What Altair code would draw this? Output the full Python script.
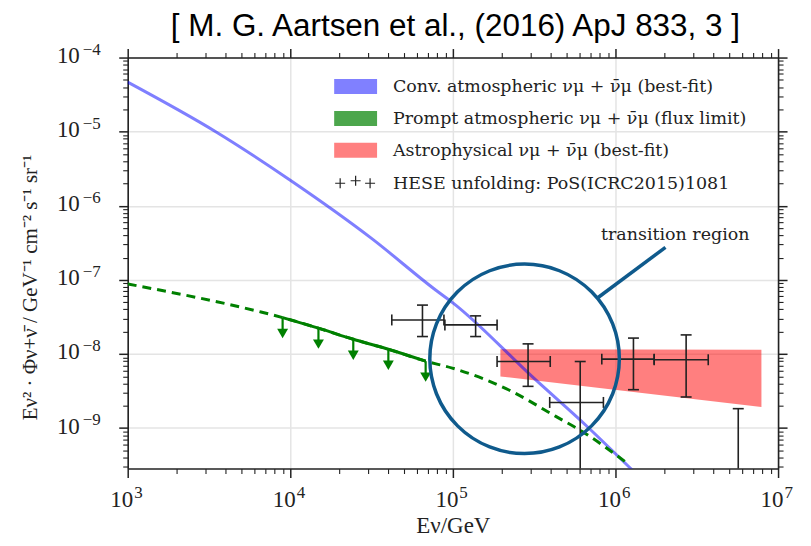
import math
import altair as alt
import pandas as pd

# ---------------- data ----------------
TITLE = "[ M. G. Aartsen et al., (2016) ApJ 833, 3 ]"
X_TITLE = "Eν/GeV"
Y_TITLE = "Eν² · Φν+ν\u0304 / GeV⁻¹ cm⁻² s⁻¹ sr⁻¹"

LEGEND_LABELS = [
    "Conv. atmospheric νμ + ν\u0304μ (best-fit)",
    "Prompt atmospheric νμ + ν\u0304μ (flux limit)",
    "Astrophysical νμ + ν\u0304μ (best-fit)",
    "HESE unfolding: PoS(ICRC2015)1081",
]

# conventional atmospheric (best fit)
conv_E = [1.0e3, 3.5e3, 1.0e4, 3.16e4, 7.83e4, 1.0e5, 3.16e5, 6.67e5, 1.2e6, 1.32e6]
conv_F = [4.66e-5, 9.9e-6, 2.21e-6, 3.63e-7, 7.31e-8, 4.9e-8, 4.68e-9, 1.06e-9, 3.06e-10, 2.5e-10]

# prompt atmospheric (model curve, dashed)
prompt_E = [1.0e3, 6.46e3, 8.97e3, 1.49e4, 2.44e4, 4.01e4, 6.8e4, 9.91e4, 2.21e5, 4.27e5, 6.21e5, 1.175e6]
prompt_F = [8.81e-8, 3.73e-8, 3.10e-8, 2.23e-8, 1.58e-8, 1.16e-8, 8.0e-9, 6.46e-9, 3.27e-9, 1.45e-9, 9.06e-10, 3.39e-10]

# prompt flux limit (solid section with arrows)
limit_E = [8.97e3, 1.49e4, 2.44e4, 4.01e4, 6.8e4]
limit_F = [3.10e-8, 2.23e-8, 1.58e-8, 1.16e-8, 8.0e-9]

# astrophysical band
astro_E = [1.96e5, 7.9e6]
astro_hi = [1.16e-8, 1.14e-8]
astro_lo = [4.98e-9, 1.93e-9]

# HESE unfolding points
hese_E = [6.5e4, 1.38e5, 2.9e5, 6.07e5, 1.29e6, 2.72e6, 5.69e6]
hese_Elo = [4.21e4, 8.93e4, 1.87e5, 3.94e5, 8.24e5, 1.73e6, None]
hese_Ehi = [8.81e4, 1.87e5, 3.97e5, 8.43e5, 1.73e6, 3.72e6, None]
hese_F = [2.88e-8, 2.47e-8, 7.92e-9, 2.22e-9, 8.53e-9, 8.36e-9, None]
hese_Flo = [1.72e-8, 1.72e-8, 3.66e-9, None, 3.30e-9, 2.63e-9, None]
hese_Fhi = [4.57e-8, 3.27e-8, 1.37e-8, 7.92e-9, 1.64e-8, 1.81e-8, 1.83e-9]

# annotation
circle_E, circle_F = 2.76e5, 8.6e-9
connector_E = [7.71e5, 2.03e6]
connector_F = [5.65e-8, 2.75e-7]
note_E, note_F, NOTE = 2.33e6, 4.0e-7, "transition region"

X_DOMAIN = [1e3, 1e7]
Y_DOMAIN = [2.85e-10, 1e-4]
x_major = [1e3, 1e4, 1e5, 1e6, 1e7]
y_major = [1e-9, 1e-8, 1e-7, 1e-6, 1e-5, 1e-4]
x_minor = [k * 10.0 ** e for e in range(3, 7) for k in range(2, 10)]
y_minor = [k * 10.0 ** e for e in range(-10, -4) for k in range(2, 10)
           if Y_DOMAIN[0] <= k * 10.0 ** e <= Y_DOMAIN[1]]

# ---------------- styling ----------------
W, H = 652, 412
SERIF = "Liberation Serif"
TEXT_SERIF = "DejaVu Serif"
INK = "#222222"

xs = alt.Scale(type="log", domain=X_DOMAIN, nice=False)
ys = alt.Scale(type="log", domain=Y_DOMAIN, nice=False)


def X(f):
    return alt.X(f, type="quantitative", scale=xs, axis=None)


def Y(f):
    return alt.Y(f, type="quantitative", scale=ys, axis=None)


axis_df = pd.DataFrame({"E": [1e4], "F": [1e-6]})


def axis_layer(xa, ya):
    return alt.Chart(axis_df).mark_point(opacity=0).encode(
        x=alt.X("E:Q", scale=xs, axis=xa),
        y=alt.Y("F:Q", scale=ys, axis=ya),
    )


common_major = dict(tickSize=9, tickWidth=1.5, tickColor=INK, domainColor=INK,
                    domainWidth=1.6, labels=False)
common_minor = dict(tickSize=5, tickWidth=1.1, tickColor=INK, domain=False,
                    grid=False, labels=False, title=None)

ax_bottom = alt.Axis(orient="bottom", values=x_major,
                     grid=True, gridColor="#e4e4e4", gridWidth=1.5,
                     title=X_TITLE, titleFont=SERIF, titleFontSize=23,
                     titleFontWeight="normal", titleColor=INK,
                     titleBaseline="alphabetic", titleY=64, **common_major)
ax_left = alt.Axis(orient="left", values=y_major,
                   grid=True, gridColor="#e4e4e4", gridWidth=1.5,
                   title=Y_TITLE, titleFont=SERIF, titleFontSize=21,
                   titleFontWeight="normal", titleColor=INK, titleAngle=270,
                   titleAlign="center", titleBaseline="alphabetic",
                   titleX=-91, titleY=230, **common_major)
ax_top = alt.Axis(orient="top", values=x_major, grid=False, title=None, **common_major)
ax_right = alt.Axis(orient="right", values=y_major, grid=False, title=None, **common_major)

layers = [
    axis_layer(ax_bottom, ax_left),
    axis_layer(alt.Axis(orient="bottom", values=x_minor, **common_minor),
               alt.Axis(orient="left", values=y_minor, **common_minor)),
    axis_layer(ax_top, ax_right),
    axis_layer(alt.Axis(orient="top", values=x_minor, **common_minor),
               alt.Axis(orient="right", values=y_minor, **common_minor)),
]

# tick labels "10" with a superscript exponent, placed through the scales
def exp_text(v):
    e = round(math.log10(v))
    return ("−" if e < 0 else "") + str(abs(e))


xlab_df = pd.DataFrame({"v": x_major, "b": ["10"] * len(x_major),
                        "e": [exp_text(v) for v in x_major]})
ylab_df = pd.DataFrame({"v": y_major, "b": ["10"] * len(y_major),
                        "e": [exp_text(v) for v in y_major]})
layers.append(alt.Chart(xlab_df).mark_text(font=SERIF, fontSize=23, color=INK, align="right",
                                           baseline="middle", dx=5.5).encode(
    x=X("v"), y=alt.value(H + 32), text="b:N"))
layers.append(alt.Chart(xlab_df).mark_text(font=SERIF, fontSize=17, color=INK, align="left",
                                           baseline="middle", dx=6.5).encode(
    x=X("v"), y=alt.value(H + 25), text="e:N"))
layers.append(alt.Chart(ylab_df).mark_text(font=SERIF, fontSize=23, color=INK, align="right",
                                           baseline="middle", dy=-1.5).encode(
    x=alt.value(-48), y=Y("v"), text="b:N"))
layers.append(alt.Chart(ylab_df).mark_text(font=SERIF, fontSize=17, color=INK, align="left",
                                           baseline="middle", dy=-8).encode(
    x=alt.value(-45), y=Y("v"), text="e:N"))

# astrophysical band
astro_df = pd.DataFrame({"E": astro_E, "hi": astro_hi, "lo": astro_lo})
layers.append(alt.Chart(astro_df).mark_area(color="#ff0000", opacity=0.5).encode(
    x=X("E"), y=Y("hi"), y2=alt.Y2("lo")))

# conventional atmospheric
conv_df = pd.DataFrame({"E": conv_E, "F": conv_F})
layers.append(alt.Chart(conv_df).mark_line(color="#0000ff", opacity=0.5, strokeWidth=3,
                                           clip=True, interpolate="monotone").encode(
    x=X("E"), y=Y("F")))

# prompt model (dashed) and limit (solid)
prompt_df = pd.DataFrame({"E": prompt_E, "F": prompt_F})
layers.append(alt.Chart(prompt_df).mark_line(color="#008000", strokeWidth=3,
                                             strokeDash=[9, 6], clip=True,
                                             interpolate="monotone").encode(
    x=X("E"), y=Y("F")))
limit_df = pd.DataFrame({"E": limit_E, "F": limit_F})
layers.append(alt.Chart(limit_df).mark_line(color="#008000", strokeWidth=3,
                                            interpolate="monotone").encode(
    x=X("E"), y=Y("F")))
arrows = alt.Chart(limit_df).transform_calculate(
    stem="datum.F * pow(10, -0.20)", head="datum.F * pow(10, -0.215)")
layers.append(arrows.mark_rule(color="#008000", strokeWidth=2.2).encode(
    x=X("E"), y=Y("F"), y2=alt.Y2("stem")))
layers.append(arrows.mark_point(shape="triangle-down", filled=True, color="#008000",
                                size=120, opacity=1).encode(x=X("E"), y=Y("head")))

# HESE unfolding
hese_df = pd.DataFrame({"E": hese_E, "Elo": hese_Elo, "Ehi": hese_Ehi,
                        "F": hese_F, "Flo": hese_Flo, "Fhi": hese_Fhi})
hese_df["Flo_draw"] = hese_df["Flo"].fillna(Y_DOMAIN[0])
hese = alt.Chart(hese_df)
bar_style = dict(color=INK, strokeWidth=1.6)
layers.append(hese.mark_rule(**bar_style).encode(
    x=X("E"), y=Y("Fhi"), y2=alt.Y2("Flo_draw")))
layers.append(hese.transform_filter("isValid(datum.Elo)").mark_rule(**bar_style).encode(
    x=X("Elo"), x2=alt.X2("Ehi"), y=Y("F")))
layers.append(hese.mark_tick(orient="horizontal", size=11, thickness=1.6, color=INK,
                             opacity=1).encode(x=X("E"), y=Y("Fhi")))
layers.append(hese.transform_filter("isValid(datum.Flo)").mark_tick(
    orient="horizontal", size=11, thickness=1.6, color=INK, opacity=1).encode(
    x=X("E"), y=Y("Flo")))
for f in ["Elo", "Ehi"]:
    layers.append(hese.transform_filter(f"isValid(datum.{f})").mark_tick(
        orient="vertical", size=11, thickness=1.6, color=INK, opacity=1).encode(
        x=X(f), y=Y("F")))

# transition region annotation
circ_df = pd.DataFrame({"E": [circle_E], "F": [circle_F]})
layers.append(alt.Chart(circ_df).mark_point(shape="circle", filled=False, size=190 ** 2,
                                            strokeWidth=3.5, color="#0f5a8c",
                                            opacity=1).encode(x=X("E"), y=Y("F")))
conn_df = pd.DataFrame({"E": connector_E, "F": connector_F})
layers.append(alt.Chart(conn_df).mark_line(color="#0f5a8c", strokeWidth=3.5).encode(
    x=X("E"), y=Y("F")))
note_df = pd.DataFrame({"E": [note_E], "F": [note_F], "t": [NOTE]})
layers.append(alt.Chart(note_df).mark_text(font=TEXT_SERIF, fontSize=17.5, color=INK,
                                           align="center", baseline="middle").encode(
    x=X("E"), y=Y("F"), text="t:N"))

# legend (drawn by hand, pixel layout)
sw_colors = ["#8080ff", "#4ca64c", "#ff8080"]
row_y = [29, 61, 93, 125.5]
for i, lab in enumerate(LEGEND_LABELS):
    one = pd.DataFrame({"t": [lab]})
    if i < 3:
        layers.append(alt.Chart(one).mark_rect(color=sw_colors[i]).encode(
            x=alt.value(207), x2=alt.value(250),
            y=alt.value(row_y[i] - 7.5), y2=alt.value(row_y[i] + 7.5)))
    layers.append(alt.Chart(one).mark_text(font=TEXT_SERIF, fontSize=17.5, color=INK,
                                           align="left", baseline="alphabetic").encode(
        x=alt.value(266), y=alt.value(row_y[i] + 6), text="t:N"))
for px, py in [(213, 126), (228.5, 123.5), (243, 126)]:
    layers.append(alt.Chart(pd.DataFrame({"t": ["+"]})).mark_point(
        shape="M-1,0H1M0,-1V1", filled=False, size=100, strokeWidth=1.2,
        color=INK, opacity=1).encode(x=alt.value(px), y=alt.value(py)))

# title
layers.append(alt.Chart(pd.DataFrame({"t": [TITLE]})).mark_text(
    font="Liberation Sans", fontSize=31.5, color="#000000", align="center",
    baseline="alphabetic").encode(x=alt.value(328.5), y=alt.value(-22), text="t:N"))

chart = alt.layer(*layers).resolve_axis(x="independent", y="independent").properties(
    width=W, height=H,
    autosize=alt.AutoSizeParams(type="none"),
    padding={"left": 120, "top": 49, "right": 25, "bottom": 77},
).configure_view(stroke=None)

chart.save("out.html", embed_options={"renderer": "svg", "actions": False})
